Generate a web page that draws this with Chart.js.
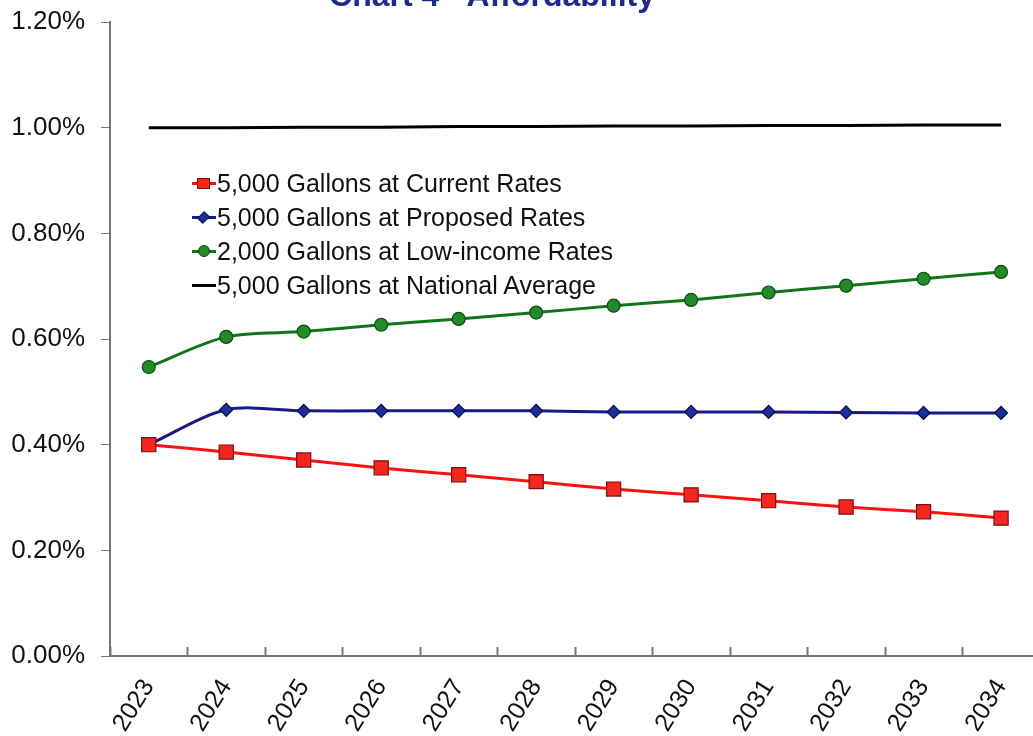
<!DOCTYPE html>
<html>
<head>
<meta charset="utf-8">
<script src="https://cdn.jsdelivr.net/npm/chart.js@4/dist/chart.umd.min.js"></script>
<style>
  html, body { margin: 0; padding: 0; background: #fff; overflow: hidden; width: 1033px; height: 736px; }
  #wrap { position: absolute; left: 0; top: 0; width: 1051px; height: 736px; }
  #title { position: absolute; left: 0; width: 984px; top: -23px; text-align: center;
           font: bold 32px "Liberation Sans", Arial, sans-serif; color: #1b2a8c; white-space: nowrap; }
  #legend { position: absolute; left: 191px; top: 166px; font: 25px "Liberation Sans", Arial, sans-serif; color: #111; }
  .item { height: 34px; line-height: 34px; display: flex; align-items: center; white-space: nowrap; }
  .sym { position: relative; width: 26px; height: 34px; margin-right: 0px; }
  .sym .ln { position: absolute; left: 1px; right: 1px; top: 16px; height: 3px; }
  .sym .mk { position: absolute; box-sizing: border-box; }
</style>
</head>
<body>
<div id="wrap">
  <canvas id="c"></canvas>
  <div id="title">Chart 4 - Affordability</div>
  <div id="legend"></div>
</div>
<script>
// ---- data ----
const years = ["2023","2024","2025","2026","2027","2028","2029","2030","2031","2032","2033","2034"];
const seriesNames = [
  "5,000 Gallons at Current Rates",
  "5,000 Gallons at Proposed Rates",
  "2,000 Gallons at Low-income Rates",
  "5,000 Gallons at National Average"
];
const currentRates  = [0.400, 0.386, 0.371, 0.356, 0.343, 0.330, 0.316, 0.305, 0.294, 0.282, 0.273, 0.261];
const proposedRates = [0.400, 0.466, 0.464, 0.464, 0.464, 0.464, 0.462, 0.462, 0.462, 0.461, 0.460, 0.460];
const lowIncome     = [0.547, 0.604, 0.614, 0.627, 0.638, 0.650, 0.663, 0.674, 0.688, 0.701, 0.714, 0.727];
const nationalAvg   = [1.000, 1.000, 1.001, 1.001, 1.002, 1.002, 1.003, 1.003, 1.004, 1.004, 1.005, 1.005];
const yTicks = [0, 0.2, 0.4, 0.6, 0.8, 1.0, 1.2];

// ---- styles ----
const styles = [
  { line: '#ff1010', fill: '#f5261e', border: '#7a1010', shape: 'rect', r: 10 },
  { line: '#1a1a86', fill: '#1d2f96', border: '#0a0a50', shape: 'rectRot', r: 6.5 },
  { line: '#11741a', fill: '#238a2a', border: '#0b4a10', shape: 'circle', r: 6.5 },
  { line: '#000000', fill: '#000', border: '#000', shape: false, r: 0 }
];
const values = [currentRates, proposedRates, lowIncome, nationalAvg];

const FONT = '"Liberation Sans", Arial, sans-serif';

const datasets = values.map((v, i) => ({
  label: seriesNames[i],
  data: v,
  borderColor: styles[i].line,
  borderWidth: 3,
  backgroundColor: styles[i].fill,
  pointBackgroundColor: styles[i].fill,
  pointBorderColor: styles[i].border,
  pointBorderWidth: 1.2,
  pointStyle: styles[i].shape || 'circle',
  pointRadius: styles[i].r,
  pointHoverRadius: styles[i].r,
  tension: i === 3 ? 0 : 0.3,
  fill: false
}));

// legend (HTML)
const legend = document.getElementById('legend');
seriesNames.forEach((name, i) => {
  const s = styles[i];
  const item = document.createElement('div'); item.className = 'item';
  const sym = document.createElement('div'); sym.className = 'sym';
  const ln = document.createElement('div'); ln.className = 'ln'; ln.style.background = s.line; sym.appendChild(ln);
  if (s.shape) {
    const mk = document.createElement('div'); mk.className = 'mk';
    mk.style.background = s.fill; mk.style.border = '1px solid ' + s.border;
    if (s.shape === 'rect') { mk.style.width = '13px'; mk.style.height = '11px'; mk.style.left = '6px'; mk.style.top = '12px'; }
    if (s.shape === 'rectRot') { mk.style.width = '9px'; mk.style.height = '9px'; mk.style.left = '8px'; mk.style.top = '13px'; mk.style.transform = 'rotate(45deg) scale(0.9,1.1)'; }
    if (s.shape === 'circle') { mk.style.width = '12px'; mk.style.height = '12px'; mk.style.left = '7px'; mk.style.top = '11px'; mk.style.borderRadius = '50%'; }
    sym.appendChild(mk);
  }
  const t = document.createElement('span'); t.textContent = name;
  item.appendChild(sym); item.appendChild(t);
  legend.appendChild(item);
});

// inward x-axis tick marks at category boundaries
const innerTicks = {
  id: 'innerTicks',
  afterDatasetsDraw(chart) {
    const x = chart.scales.x, ctx = chart.ctx;
    const n = chart.data.labels.length;
    const step = (x.getPixelForTick(1) - x.getPixelForTick(0));
    ctx.save();
    ctx.strokeStyle = '#777'; ctx.lineWidth = 2;
    for (let i = 0; i <= n; i++) {
      const px = Math.round(x.getPixelForTick(0) - step / 2 + i * step) + 0.5;
      ctx.beginPath(); ctx.moveTo(px, x.top); ctx.lineTo(px, x.top - 9); ctx.stroke();
    }
    ctx.restore();
  }
};

new Chart(document.getElementById('c'), {
  type: 'line',
  data: { labels: years, datasets },
  options: {
    responsive: true,
    maintainAspectRatio: false,
    animation: false,
    events: [],
    layout: { padding: { top: 22, right: 0, left: 0, bottom: 0 } },
    plugins: { legend: { display: false }, title: { display: false }, tooltip: { enabled: false } },
    scales: {
      x: {
        type: 'category',
        offset: true,
        grid: { display: true, offset: true, drawOnChartArea: false, drawTicks: false, color: '#777' },
        border: { display: true, color: '#777', width: 2 },
        ticks: { color: '#111', font: { family: FONT, size: 25 }, minRotation: 58, maxRotation: 58, padding: 18, autoSkip: false },
        afterFit(scale) { scale.height = 80; scale.paddingTop = 0; }
      },
      y: {
        min: 0, max: 1.2,
        afterBuildTicks(scale) { scale.ticks = yTicks.map(v => ({ value: v })); },
        grid: { display: true, drawOnChartArea: false, drawTicks: true, tickLength: 9, color: '#777' },
        border: { display: true, color: '#777', width: 2 },
        ticks: { color: '#111', font: { family: FONT, size: 26 }, padding: 16,
                 callback: v => v.toFixed(2) + '%' },
        afterFit(scale) { scale.width = 110; scale.paddingTop = 0; scale.paddingBottom = 0; }
      }
    }
  },
  plugins: [innerTicks]
});
</script>
</body>
</html>
